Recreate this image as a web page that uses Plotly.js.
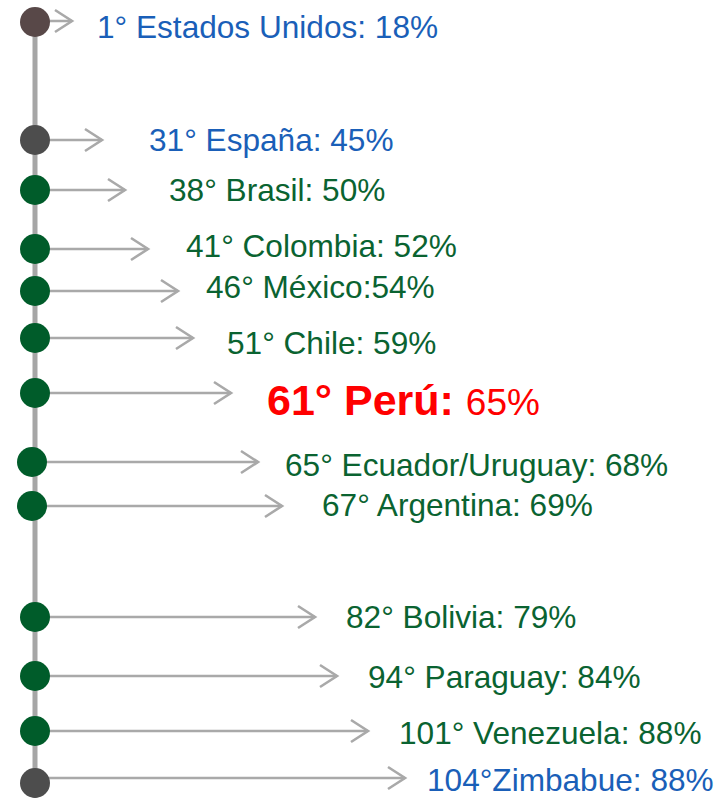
<!DOCTYPE html>
<html>
<head>
<meta charset="utf-8">
<script src="https://cdn.plot.ly/plotly-3.0.1.min.js"></script>
<style>html,body{margin:0;padding:0;background:#fff;}#chart{width:727px;height:798px;}</style>
</head>
<body>
<div id="chart"></div>
<script>
// ---- data ----
const ranks = [1, 31, 38, 41, 46, 51, 61, 65, 67, 82, 94, 101, 104];
const countries = ['Estados Unidos', 'España', 'Brasil', 'Colombia', 'México', 'Chile', 'Perú',
  'Ecuador/Uruguay', 'Argentina', 'Bolivia', 'Paraguay', 'Venezuela', 'Zimbabue'];
const pcts = [18, 45, 50, 52, 54, 59, 65, 68, 69, 79, 84, 88, 88];
const groups = ['ref', 'ref', 'latam', 'latam', 'latam', 'latam', 'peru',
  'latam', 'latam', 'latam', 'latam', 'latam', 'ref'];
// separators as written in the original labels
const rankSep = [' ', ' ', ' ', ' ', ' ', ' ', ' ', ' ', ' ', ' ', ' ', ' ', ''];
const pctSep = [' ', ' ', ' ', ' ', '', ' ', ' ', ' ', ' ', ' ', ' ', ' ', ' '];

// ---- layout (pixel coordinates of the diagram) ----
const rowY  = [21, 140, 190, 249, 291, 338, 393, 462, 506, 617, 676, 731, 778];
const dotX  = [35, 35, 35, 35, 35, 35, 35, 32, 32, 35, 35, 35, 35];
const dotY  = [22, 140, 190, 249, 291, 338, 393, 462, 506, 617, 676, 731, 783];
const tipX  = [72, 102, 125, 148, 178, 193, 231, 258, 282, 315, 337, 368, 405];
const textX = [96, 148, 168, 185, 205, 226, 266, 284, 321, 345, 367, 398, 426];
const textY = [27, 140, 190, 246, 287, 343, 400, 465, 505, 617, 677, 733, 780];

const colors = {
  textRef: '#1a5fb8', textLatam: '#0a6331', textPeru: '#ff0000',
  dotRef: '#4d4d4d', dotUS: '#584848', dotLatam: '#005c2a',
  line: '#a6a6a6', arrow: '#a9a9a9'
};

const traces = [];
// vertical axis line
traces.push({x: [35, 35], y: [22, 798], mode: 'lines', line: {color: colors.line, width: 5},
  hoverinfo: 'skip', showlegend: false});
// arrow shafts and chevrons
const sx = [], sy = [], cx = [], cy = [];
for (let i = 0; i < ranks.length; i++) {
  sx.push(dotX[i], tipX[i], null); sy.push(rowY[i], rowY[i], null);
  cx.push(tipX[i] - 17, tipX[i], tipX[i] - 17, null);
  cy.push(rowY[i] - 11, rowY[i], rowY[i] + 11, null);
}
traces.push({x: sx, y: sy, mode: 'lines', line: {color: colors.arrow, width: 2.6},
  hoverinfo: 'skip', showlegend: false});
traces.push({x: cx, y: cy, mode: 'lines', line: {color: colors.arrow, width: 2.6},
  hoverinfo: 'skip', showlegend: false});
// dots
traces.push({x: dotX, y: dotY, mode: 'markers',
  marker: {size: 30, line: {width: 0},
    color: groups.map((g, i) => g === 'ref' ? (i === 0 ? colors.dotUS : colors.dotRef) : colors.dotLatam)},
  text: countries, hoverinfo: 'text', showlegend: false});

// labels
const annotations = ranks.map((r, i) => {
  let text, color, size = 31.6;
  if (groups[i] === 'peru') {
    text = '<b>' + r + '°' + rankSep[i] + countries[i] + ':</b>' + pctSep[i] +
      '<span style="font-size:37px">' + pcts[i] + '%</span>';
    color = colors.textPeru; size = 43;
  } else {
    text = r + '°' + rankSep[i] + countries[i] + ':' + pctSep[i] + pcts[i] + '%';
    color = groups[i] === 'ref' ? colors.textRef : colors.textLatam;
  }
  return {x: textX[i], y: textY[i], xref: 'x', yref: 'y', text: text, showarrow: false,
    xanchor: 'left', yanchor: 'middle', borderpad: 0,
    font: {family: 'Liberation Sans, Arial, sans-serif', size: size, color: color}};
});

const layout = {
  width: 727, height: 798,
  margin: {l: 0, r: 0, t: 0, b: 0},
  paper_bgcolor: '#ffffff', plot_bgcolor: '#ffffff',
  xaxis: {range: [0, 727], visible: false, fixedrange: true},
  yaxis: {range: [798, 0], visible: false, fixedrange: true},
  annotations: annotations,
  showlegend: false
};

Plotly.newPlot('chart', traces, layout, {displayModeBar: false, staticPlot: true});
</script>
</body>
</html>
